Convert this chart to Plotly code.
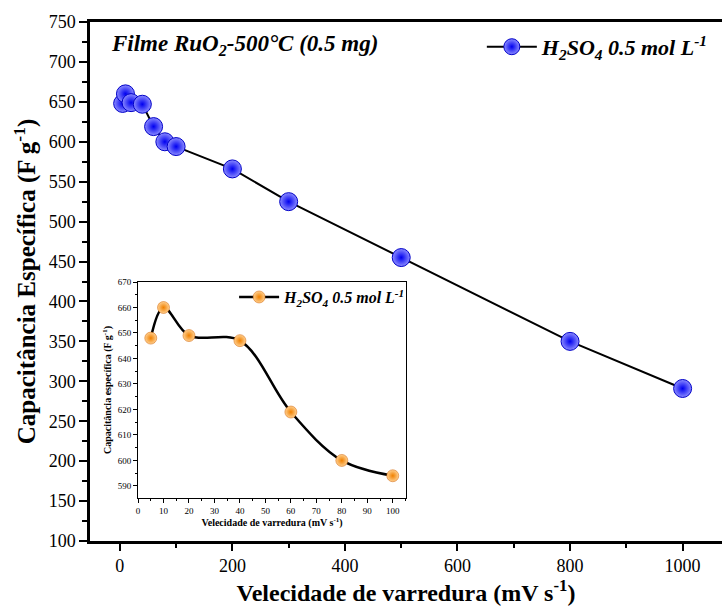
import plotly.graph_objects as go

# data
scan_rate = [5, 10, 20, 40, 60, 80, 100, 200, 300, 500, 800, 1000]
capacitance = [648, 660, 649, 647, 619, 600, 594, 566, 525, 455, 350, 291]
inset_rate = [5, 10, 20, 40, 60, 80, 100]
inset_cap = [648, 660, 649, 647, 619, 600, 594]

series_name = "<b><i>H<sub>2</sub>SO<sub>4</sub> 0.5 mol L<sup>-1</sup></i></b>"
title_text = "<b><i>Filme RuO<sub>2</sub>-500°C (0.5 mg)</i></b>"

FONT = "Liberation Serif"

fig = go.Figure()
fig.add_trace(go.Scatter(
    x=scan_rate, y=capacitance, mode="lines+markers", name=series_name,
    line=dict(color="black", width=2),
    marker=dict(size=18, color="#8c8cff", gradient=dict(type="radial", color="#0000f0"),
                line=dict(color="#0000c8", width=1)),
    xaxis="x", yaxis="y", legend="legend",
))
fig.add_trace(go.Scatter(
    x=inset_rate, y=inset_cap, mode="lines+markers", name=series_name,
    line=dict(color="black", width=2.5, shape="spline", smoothing=1.0),
    marker=dict(size=12, color="#ffd090", gradient=dict(type="radial", color="#f08000"),
                line=dict(color="#d06000", width=0.5)),
    xaxis="x2", yaxis="y2", legend="legend2",
))

fig.add_annotation(text=title_text, xref="paper", yref="paper", x=0.030, y=0.955,
                   xanchor="left", yanchor="middle", showarrow=False,
                   font=dict(family=FONT, size=23, color="black"))

fig.update_layout(
    width=722, height=612,
    margin=dict(l=90, r=0, t=22, b=71),
    paper_bgcolor="white", plot_bgcolor="white",
    font=dict(family=FONT, color="black"),
    xaxis=dict(domain=[0, 1], range=[-53, 1070], showgrid=False, zeroline=False,
               showline=True, linecolor="black", linewidth=2.5, mirror=True,
               ticks="outside", ticklen=7, tickwidth=2, tickcolor="black",
               tickvals=[0, 200, 400, 600, 800, 1000],
               minor=dict(dtick=100, tick0=0, ticks="outside", ticklen=4, tickwidth=2, tickcolor="black"),
               tickfont=dict(size=18, family=FONT),
               title=dict(text="<b>Velecidade de varredura (mV s<sup>-1</sup>)</b>",
                          font=dict(size=24, family=FONT), standoff=8)),
    yaxis=dict(domain=[0, 1], range=[100, 750], showgrid=False, zeroline=False,
               showline=True, linecolor="black", linewidth=2.5,
               ticks="outside", ticklen=8, tickwidth=2, tickcolor="black",
               dtick=50, tick0=100,
               minor=dict(dtick=25, tick0=100, ticks="outside", ticklen=5, tickwidth=2, tickcolor="black"),
               tickfont=dict(size=18, family=FONT),
               title=dict(text="<b>Capacitância Específica (F g<sup>-1</sup>)</b>",
                          font=dict(size=25, family=FONT), standoff=6)),
    xaxis2=dict(domain=[0.076, 0.5], anchor="y2", range=[0, 105.2], showgrid=False, zeroline=False,
                showline=True, linecolor="black", linewidth=1, mirror=True,
                ticks="outside", ticklen=4, tickwidth=1, tickcolor="black", dtick=10,
                minor=dict(dtick=5, ticks="outside", ticklen=2, tickwidth=1, tickcolor="black"),
                tickfont=dict(size=9, family=FONT),
                title=dict(text="<b>Velecidade de varredura (mV s<sup>-1</sup>)</b>",
                           font=dict(size=10, family=FONT), standoff=4)),
    yaxis2=dict(domain=[0.083, 0.499], anchor="x2", range=[585.3, 670], showgrid=False, zeroline=False,
                showline=True, linecolor="black", linewidth=1, mirror=True,
                ticks="outside", ticklen=4, tickwidth=1, tickcolor="black",
                tickvals=[590, 600, 610, 620, 630, 640, 650, 660, 670],
                minor=dict(dtick=5, tick0=590, ticks="outside", ticklen=2, tickwidth=1, tickcolor="black"),
                tickfont=dict(size=9, family=FONT),
                title=dict(text="<b>Capacitância específica (F g<sup>-1</sup>)</b>",
                           font=dict(size=10, family=FONT), standoff=4)),
    legend=dict(x=0.620, y=0.952, xanchor="left", yanchor="middle", bgcolor="rgba(0,0,0,0)",
                font=dict(size=22, family=FONT), itemwidth=50, borderwidth=0),
    legend2=dict(x=0.228, y=0.47, xanchor="left", yanchor="middle", bgcolor="rgba(0,0,0,0)",
                 font=dict(size=16, family=FONT), itemwidth=40, borderwidth=0),
    showlegend=True,
)

fig.write_html("out.html")
